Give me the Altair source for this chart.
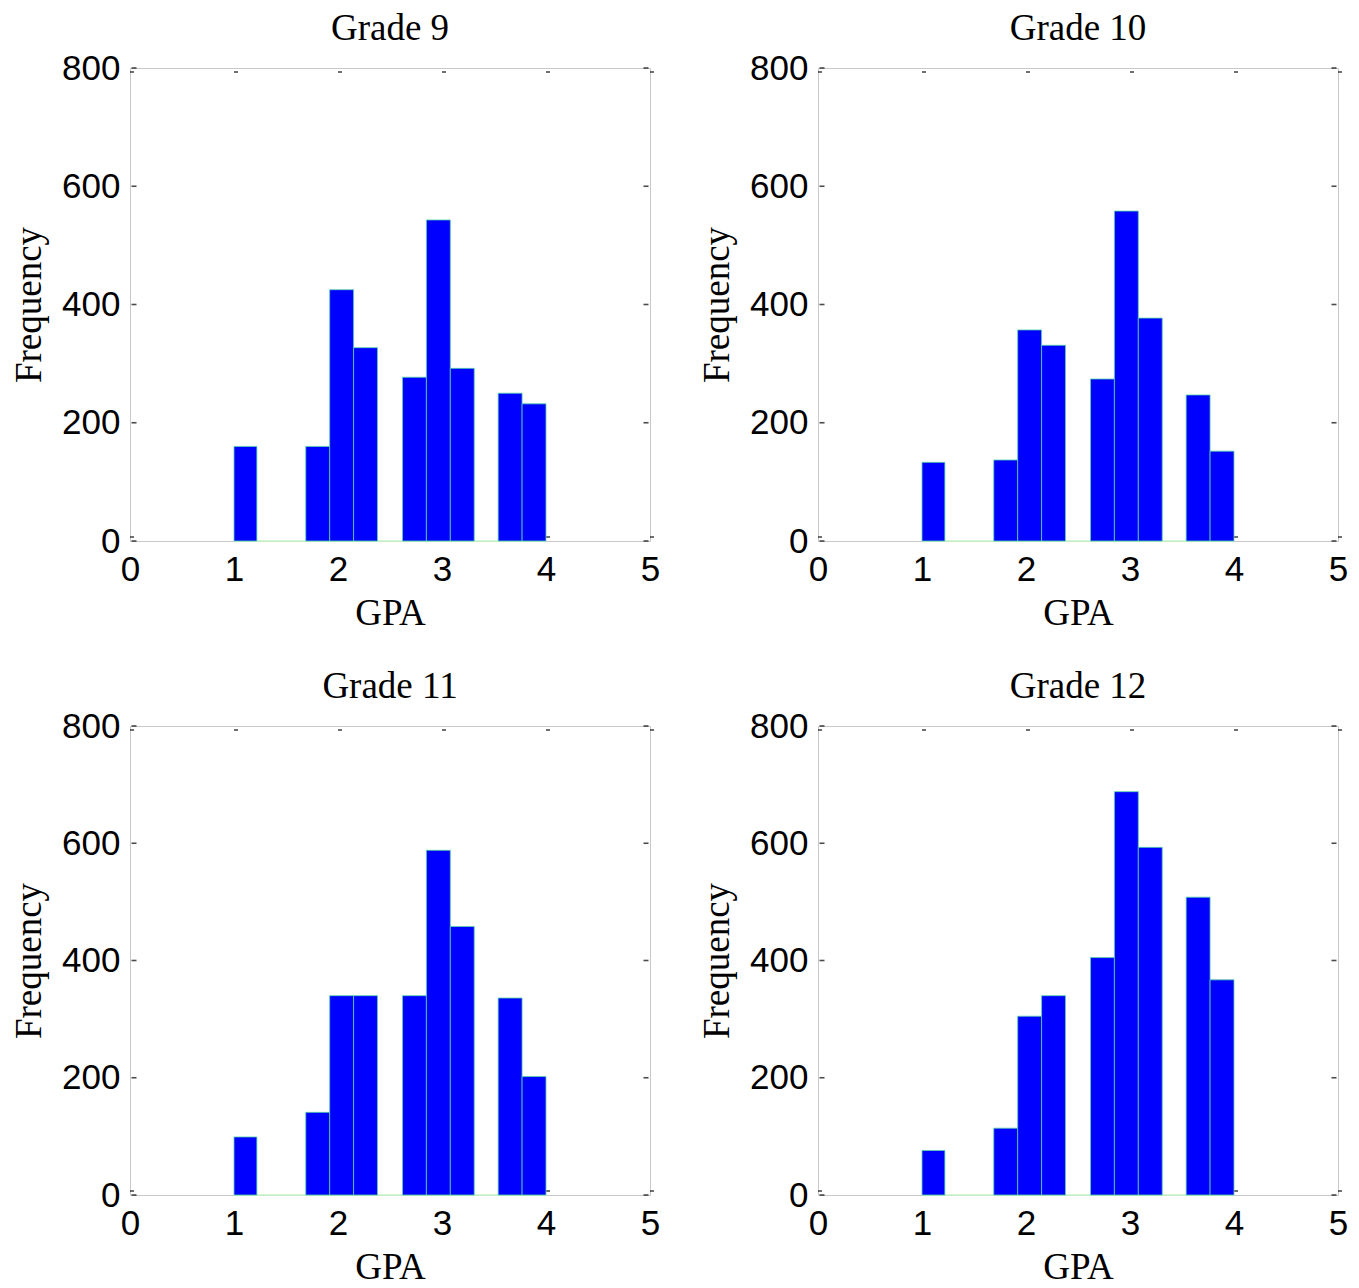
import altair as alt
import pandas as pd

grades = ["Grade 9", "Grade 10", "Grade 11", "Grade 12"]

# histogram bins that hold data (GPA bin edges)
bin_start = [1.00, 1.69, 1.92, 2.15, 2.62, 2.85, 3.08, 3.54, 3.77]
bin_end = [1.22, 1.92, 2.15, 2.38, 2.85, 3.08, 3.31, 3.77, 4.00]

counts_g9 = [160, 160, 425, 327, 277, 543, 292, 250, 232]
counts_g10 = [133, 137, 357, 331, 274, 558, 377, 247, 152]
counts_g11 = [99, 141, 340, 340, 340, 588, 458, 336, 202]
counts_g12 = [76, 114, 305, 340, 405, 688, 593, 508, 367]

x_ticks = [0, 1, 2, 3, 4, 5]
y_ticks = [0, 200, 400, 600, 800]
hist_range = [1.0, 4.0]

W = 520

SERIF = "Liberation Serif"
SANS = "Liberation Sans"


def panel(name, counts, h):
    df = pd.DataFrame({"start": bin_start, "end": bin_end, "count": counts})
    xenc = alt.X(
        "start:Q",
        scale=alt.Scale(domain=[0, 5], nice=False, zero=False),
        axis=alt.Axis(values=x_ticks, title="GPA", format="d", labelFlush=False,
                      labelPadding=11, titlePadding=8),
    )
    yenc = alt.Y(
        "count:Q",
        scale=alt.Scale(domain=[0, 800], nice=False),
        axis=alt.Axis(values=y_ticks, title="Frequency", format="d",
                      labelPadding=10, titlePadding=13),
    )
    base_df = pd.DataFrame({"start": [hist_range[0]], "end": [hist_range[1]], "count": [0]})
    baseline = alt.Chart(base_df).mark_rule(color="#c6f5c6", strokeWidth=1.5).encode(
        x=xenc, x2="end:Q", y=yenc
    )
    yt = pd.DataFrame({"count": y_ticks})
    xt = pd.DataFrame({"start": x_ticks})
    left_t = alt.Chart(yt).mark_tick(orient="horizontal", size=5, thickness=1.6,
                                     color="black").encode(x=alt.value(4), y=yenc)
    right_t = alt.Chart(yt).mark_tick(orient="horizontal", size=5, thickness=1.6,
                                      color="black").encode(x=alt.value(W - 4), y=yenc)
    top_t = alt.Chart(xt).mark_tick(orient="horizontal", size=4, thickness=1.6,
                                    color="black", xOffset=2).encode(x=xenc, y=alt.value(4))
    bot_t = alt.Chart(xt).mark_tick(orient="horizontal", size=4, thickness=1.6,
                                    color="black", xOffset=2).encode(x=xenc, y=alt.value(h - 4))
    bars = alt.Chart(df).mark_rect(color="#0000ff", stroke="#55d6a6",
                                   strokeWidth=0.8).encode(
        x=xenc, x2="end:Q", y=yenc, y2=alt.datum(0)
    )
    return alt.layer(baseline, bot_t, bars, left_t, right_t, top_t).properties(
        width=W, height=h,
        title=alt.TitleParams(name, font=SERIF, fontSize=37, fontWeight="normal",
                              color="black", offset=3),
    )


p9 = panel(grades[0], counts_g9, 473)
p10 = panel(grades[1], counts_g10, 473)
p11 = panel(grades[2], counts_g11, 469)
p12 = panel(grades[3], counts_g12, 469)

chart = alt.vconcat(
    alt.hconcat(p9, p10, spacing=37),
    alt.hconcat(p11, p12, spacing=37),
    spacing=35,
).configure_view(stroke="#c8c8c8", strokeWidth=1).configure_axis(
    ticks=False, domain=False, grid=False,
    labelFont=SANS, labelFontSize=35, labelColor="black",
    titleFont=SERIF, titleFontSize=37, titleFontWeight="normal", titleColor="black",
).properties(
    background="white",
    padding={"left": 2, "top": 1, "right": 0, "bottom": 0},
)

chart.save("out.html", embed_options={"renderer": "svg", "actions": False})
